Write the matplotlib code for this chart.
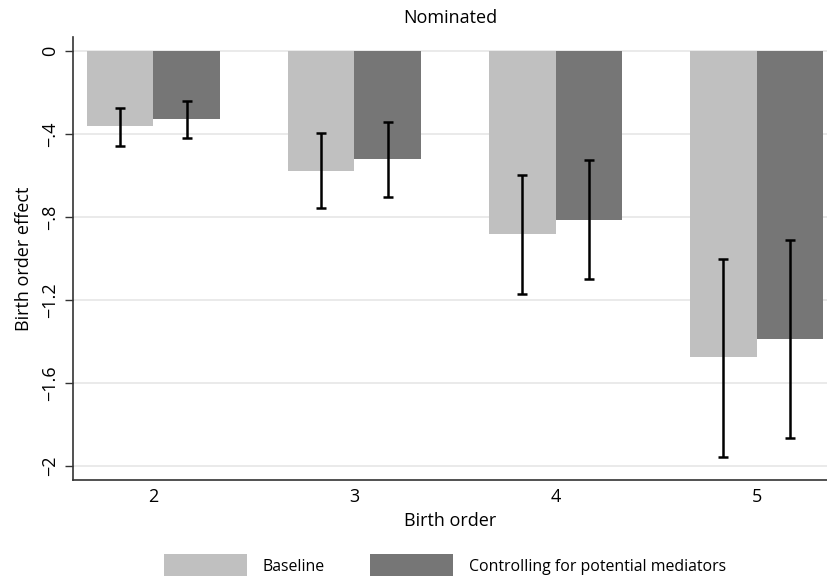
import numpy as np
import matplotlib
matplotlib.use('Agg')
import matplotlib.pyplot as plt
from matplotlib.patches import Patch

plt.rcParams['font.family'] = ['Open Sans', 'DejaVu Sans']

# данные
birth_order = ['2', '3', '4', '5']
baseline = [-0.36, -0.577, -0.88, -1.476]
baseline_lo = [-0.457, -0.755, -1.173, -1.957]
baseline_hi = [-0.274, -0.394, -0.596, -1.0]
mediators = [-0.327, -0.519, -0.813, -1.389]
mediators_lo = [-0.418, -0.702, -1.10, -1.865]
mediators_hi = [-0.24, -0.341, -0.524, -0.909]
yticks = [0, -0.4, -0.8, -1.2, -1.6, -2]
ytick_labels = ['0', '\u2212.4', '\u2212.8', '\u22121.2', '\u22121.6', '\u22122']
series_names = ['Baseline', 'Controlling for potential mediators']

light = '#c0c0c0'
dark = '#767676'

fig = plt.figure(figsize=(8.27, 5.76), dpi=100)
ax = fig.add_axes([73 / 827, 1 - 480 / 576, 754 / 827, 443 / 576])

x = np.arange(len(birth_order))
w = 0.33
b = np.array(baseline)
m = np.array(mediators)
ax.bar(x - w / 2, b, w, color=light, zorder=2)
ax.bar(x + w / 2, m, w, color=dark, zorder=2)
ax.errorbar(x - w / 2, b, yerr=[b - np.array(baseline_lo), np.array(baseline_hi) - b],
            fmt='none', ecolor='black', elinewidth=1.8, capsize=3.8, capthick=1.8, zorder=3)
ax.errorbar(x + w / 2, m, yerr=[m - np.array(mediators_lo), np.array(mediators_hi) - m],
            fmt='none', ecolor='black', elinewidth=1.8, capsize=3.8, capthick=1.8, zorder=3)

ax.set_xlim(-0.40, 3.35)
ax.set_ylim(-2.067, 0.067)
ax.set_yticks(yticks)
ax.set_yticklabels(ytick_labels, rotation=90, va='center', fontsize=13)
ax.set_xticks(x)
ax.set_xticklabels(birth_order, fontsize=13)
ax.tick_params(axis='x', length=0, pad=6)
ax.tick_params(axis='y', length=6, width=1, color='#333333', pad=4)
ax.yaxis.grid(True, color='#e6e6e6', linewidth=1.2, zorder=0)
ax.set_axisbelow(True)
for s in ['top', 'right']:
    ax.spines[s].set_visible(False)
for s in ['left', 'bottom']:
    ax.spines[s].set_color('#333333')
    ax.spines[s].set_linewidth(1.2)

ax.set_title('Nominated', fontsize=13, pad=10)
ax.set_ylabel('Birth order effect', fontsize=13, labelpad=6)
ax.set_xlabel('Birth order', fontsize=13, labelpad=4)

handles = [Patch(facecolor=light), Patch(facecolor=dark)]
fig.legend(handles, series_names, loc='center', bbox_to_anchor=(0.538, 1 - 566 / 576),
           ncol=2, frameon=False, fontsize=11.4, handlelength=5.2, handleheight=1.9,
           columnspacing=2.9, handletextpad=1.0)

fig.savefig('out.png', dpi=100)
